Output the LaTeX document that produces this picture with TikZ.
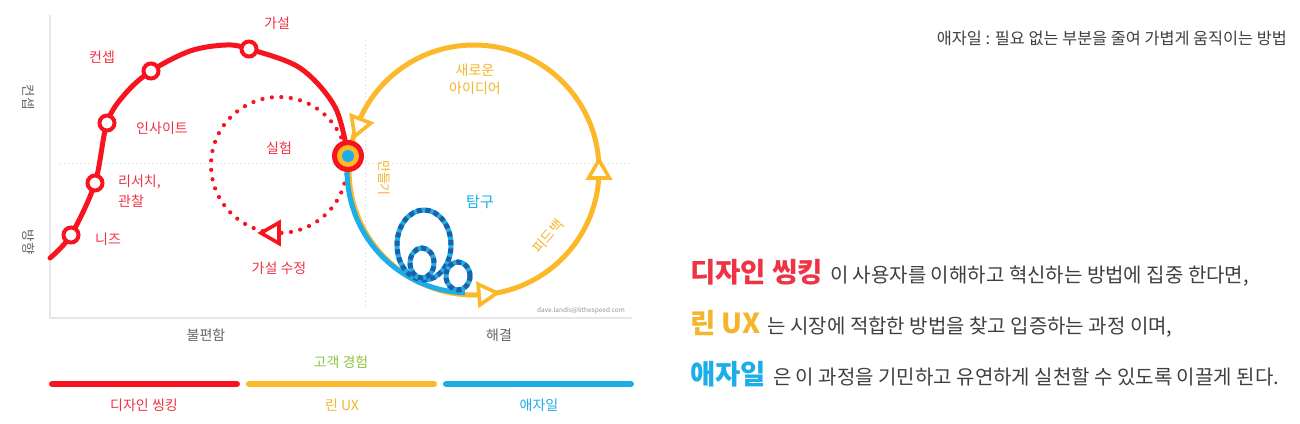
\documentclass[tikz,border=0pt]{standalone}
\usepackage{fontspec}
\setmainfont{Noto Sans CJK KR}
\usetikzlibrary{shapes.geometric}
\definecolor{cred}{HTML}{F7141E}
\definecolor{ctred}{HTML}{EE3344}
\definecolor{cyel}{HTML}{FBB829}
\definecolor{cytext}{HTML}{F5B42A}
\definecolor{cblue}{HTML}{1BAEE8}
\definecolor{cdblue}{HTML}{1F5FA8}
\definecolor{cgreen}{HTML}{8DC63F}
\definecolor{cbody}{HTML}{404040}
\definecolor{caxis}{HTML}{666666}
\definecolor{cline}{HTML}{E6E6E6}
\newcommand\fsz[1]{\fontsize{#1}{#1}\selectfont}
\tikzset{
  rdot/.style={circle, draw=cred, fill=white, line width=4pt, minimum size=15pt, inner sep=0pt},
  redline/.style={draw=cred, line width=5pt, line cap=round},
  rdots/.style={draw=cred, line width=4.2pt, line cap=round, dash pattern=on 0pt off 9.5pt},
  yline/.style={draw=cyel, line width=5pt},
  bline/.style={draw=cblue, line width=5pt},
  loopbase/.style={draw=cblue, line width=5pt},
  loopdash/.style={draw=cdblue, line width=5pt, dash pattern=on 5pt off 3.5pt},
  ytri/.style={regular polygon, regular polygon sides=3, draw=cyel, fill=white, line width=3.6pt, minimum size=24pt, inner sep=0pt},
  rtri/.style={regular polygon, regular polygon sides=3, draw=cred, fill=white, line width=3.6pt, minimum size=24pt, inner sep=0pt},
  lbl/.style={font=\fsz{14}, text=ctred, inner sep=1pt},
  ylbl/.style={font=\fsz{14}, text=cytext, inner sep=1pt},
  axlbl/.style={font=\fsz{14}, text=caxis, inner sep=1pt},
  vlbl/.style={font=\fsz{13.5}, text=caxis, inner sep=1pt, rotate=-90},
  axisline/.style={draw=cline, line width=1.5pt},
  guide/.style={draw=cline, line width=0.9pt, dash pattern=on 2pt off 2pt},
  bar/.style={line width=6pt, line cap=round},
  body/.style={anchor=base west, inner sep=0pt}
}
\begin{document}
\begin{tikzpicture}[x=1pt,y=1pt]
\useasboundingbox (0,0) rectangle (1300,-423);
\fill[white] (0,0) rectangle (1300,-423);

% frame and guides
\draw[axisline] (50,-15) -- (50,-318) -- (632,-318);
\draw[guide] (365,-40) -- (365,-308);
\draw[guide] (60,-163) -- (632,-163);

% axis labels
\node[vlbl] (yconcept) at (29,-97) {컨셉};
\node[vlbl] (ydirection) at (29,-242) {방향};
\node[axlbl] (xpain) at (206,-335) {불편함};
\node[axlbl] (xsolve) at (499,-335) {해결};
\node[font=\fsz{6.5}, text=caxis!70, inner sep=0pt] (credit) at (581,-311) {dave.landis@lithespeed.com};

% yellow loop
\coordinate (yc) at (474,-170);
\draw[yline] (yc) circle[radius=125];

% red dotted loop
\coordinate (rc) at (279,-165);
\draw[rdots] (rc) circle[radius=68];

% red design-thinking curve
\coordinate (r0) at (50,-258);
\coordinate (ra) at (125,-94);
\coordinate (rb) at (190,-51);
\coordinate (rp) at (226,-45);
\coordinate (rd) at (300,-68);
\coordinate (re) at (335,-107);
\coordinate (hubc) at (348,-156);
\draw[redline] plot[smooth, tension=0.55] coordinates {(r0) (71,-235) (95,-183) (107,-123) (ra) (151,-71) (rb) (rp) (249,-49) (rd) (re) (hubc)};

% blue agile path
\draw[bline] (hubc) arc[start angle=173, end angle=268, radius=122];

% blue loops
\draw[loopbase] (424,-245) ellipse[x radius=27, y radius=35];
\draw[loopdash] (424,-245) ellipse[x radius=27, y radius=35];
\draw[loopbase] (422,-263) ellipse[x radius=12, y radius=15];
\draw[loopdash] (422,-263) ellipse[x radius=12, y radius=15];
\draw[loopbase] (458,-276) ellipse[x radius=12, y radius=14];
\draw[loopdash] (458,-276) ellipse[x radius=12, y radius=14];

% red circles
\node[rdot] (needs) at (71,-235) {};
\node[rdot] (research) at (95,-183) {};
\node[rdot] (insight) at (107,-123) {};
\node[rdot] (concept) at (151,-71) {};
\node[rdot] (hypo) at (249,-49) {};

% arrows
\node[ytri, rotate=159] (ya1) at (359,-125) {};
\node[ytri, rotate=-85] (ya2) at (485,-294) {};
\node[ytri, rotate=0] (ya3) at (599,-172) {};
\node[rtri, rotate=90] (ra1) at (273,-233) {};

% hub
\node[circle, fill=cred, minimum size=32pt, inner sep=0pt] (hub) at (hubc) {};
\node[circle, fill=cyel, minimum size=22pt, inner sep=0pt] (huby) at (hubc) {};
\node[circle, fill=cblue, minimum size=12pt, inner sep=0pt] (hubb) at (hubc) {};

% red labels
\node[lbl] (lhypo) at (277,-23) {가설};
\node[lbl] (lconcept) at (102,-57) {컨셉};
\node[lbl] (linsight) at (162,-128) {인사이트};
\node[lbl] (lexp) at (279,-148) {실험};
\node[lbl, anchor=west] (lres) at (117,-182) {리서치,};
\node[lbl, anchor=west] (lobs) at (117,-201) {관찰};
\node[lbl] (lneeds) at (108,-239) {니즈};
\node[lbl] (lrevise) at (279,-268) {가설 수정};

% yellow / blue labels
\node[ylbl] (lnew1) at (475,-70) {새로운};
\node[ylbl] (lnew2) at (475,-88) {아이디어};
\node[font=\fsz{13}, text=cytext, inner sep=1pt, rotate=-90] (lmake) at (384,-178) {만들기};
\node[font=\fsz{14}, text=cytext, inner sep=0pt, rotate=49] (lfeed) at (548,-236) {피드백};
\node[font=\fsz{15}, text=cblue, inner sep=1pt] (lexplore) at (480,-202) {탐구};

% bottom legend
\node[font=\fsz{14}, text=cgreen, inner sep=1pt] (lcx) at (341,-362) {고객 경험};
\draw[bar, cred] (52,-384) -- (237,-384);
\draw[bar, cyel] (249,-384) -- (434,-384);
\draw[bar, cblue] (446,-384) -- (631,-384);
\node[font=\fsz{14}, text=ctred, inner sep=1pt] (ldt) at (144,-405) {디자인 씽킹};
\node[font=\fsz{14}, text=cytext, inner sep=1pt] (llux) at (342,-405) {린 UX};
\node[font=\fsz{14}, text=cblue, inner sep=1pt] (lag) at (539,-405) {애자일};

% right side text
\node[font=\fsz{16.3}, text=cbody, anchor=base east, inner sep=0pt] (title) at (1287,-44) {애자일 : 필요 없는 부분을 줄여 가볍게 움직이는 방법};
\node[body] (t1) at (690,-282) {{\fsz{27.5}\bfseries\color{ctred}디자인 씽킹}\hspace{7pt}{\fsz{20}\color{cbody}이 사용자를 이해하고 혁신하는 방법에 집중 한다면,}};
\node[body] (t2) at (690,-333) {{\fsz{27.5}\bfseries\color{cytext}린 UX}\hspace{7pt}{\fsz{20}\color{cbody}는 시장에 적합한 방법을 찾고 입증하는 과정 이며,}};
\node[body] (t3) at (690,-384) {{\fsz{27.5}\bfseries\color{cblue}애자일}\hspace{7pt}{\fsz{20}\color{cbody}은 이 과정을 기민하고 유연하게 실천할 수 있도록 이끌게 된다.}};
\end{tikzpicture}
\end{document}
